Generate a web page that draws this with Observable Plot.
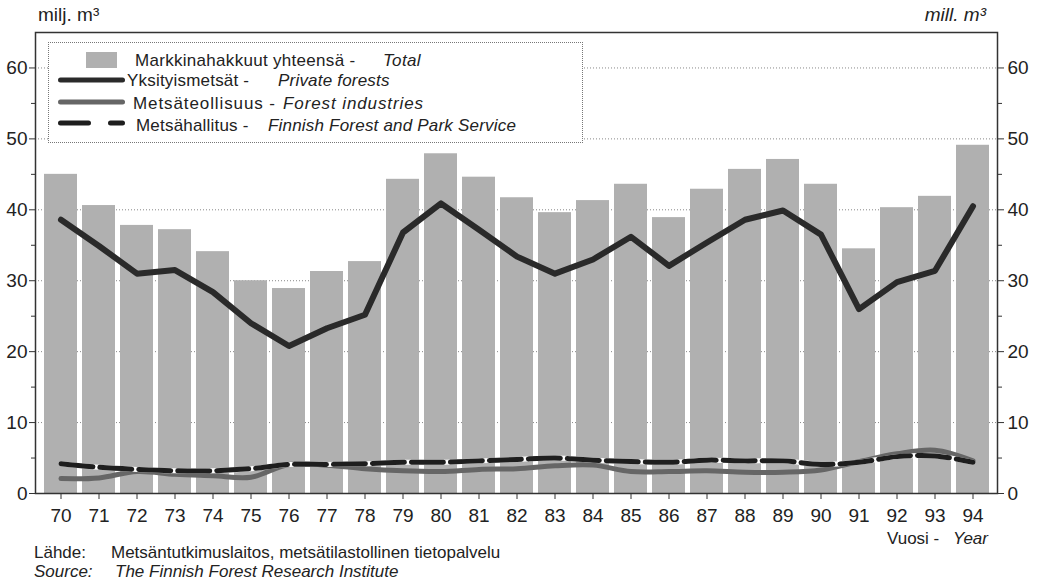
<!DOCTYPE html>
<html>
<head>
<meta charset="utf-8">
<script src="https://cdn.jsdelivr.net/npm/d3@7"></script>
<script src="https://cdn.jsdelivr.net/npm/@observablehq/plot@0.6"></script>
<style>
  html, body { margin: 0; padding: 0; background: #fff; }
  #wrap { position: relative; width: 1039px; height: 581px; font-family: "Liberation Sans", Arial, sans-serif; color: #222; }
  #wrap svg.plot { position: absolute; left: 0; top: 0; }
  .t { position: absolute; font-size: 17px; white-space: nowrap; line-height: 1; }
  .i { font-style: italic; }
  #legend { position: absolute; left: 48px; top: 42px; width: 535px; height: 101px; border: 1px dotted #777; background: #fff; box-sizing: border-box; }
</style>
</head>
<body>
<div id="wrap"></div>
<script>
const years = ["70","71","72","73","74","75","76","77","78","79","80","81","82","83","84","85","86","87","88","89","90","91","92","93","94"];
const total = [45.0,40.6,37.8,37.2,34.1,30.0,28.9,31.3,32.7,44.3,47.9,44.6,41.7,39.6,41.3,43.6,38.9,42.9,45.7,47.1,43.6,34.5,40.3,41.9,49.1];
const privateForests = [38.6,34.9,31.0,31.5,28.4,24.0,20.8,23.3,25.2,36.8,40.9,37.2,33.4,31.0,33.0,36.2,32.1,35.4,38.6,39.9,36.5,26.0,29.8,31.4,40.5];
const forestIndustries = [2.1,2.2,3.1,2.7,2.5,2.3,4.1,4.0,3.5,3.2,3.1,3.4,3.5,3.9,4.0,3.1,3.1,3.2,3.0,3.0,3.3,4.5,5.6,6.1,4.6];
const parkService = [4.2,3.7,3.4,3.2,3.2,3.5,4.1,4.1,4.2,4.4,4.4,4.6,4.8,5.0,4.7,4.5,4.4,4.7,4.6,4.6,4.1,4.4,5.2,5.3,4.4];
const yMajor = [0,10,20,30,40,50,60];
const yMinor = [5,15,25,35,45,55];

const rows = years.map((y, i) => ({year: y, total: total[i], priv: privateForests[i], ind: forestIndustries[i], park: parkService[i]}));

const ink = "#222";
const plot = Plot.plot({
  width: 1039,
  height: 530,
  marginTop: 32,
  marginBottom: 37,
  marginLeft: 35,
  marginRight: 42,
  style: {fontFamily: "Liberation Sans, Arial, sans-serif", color: ink, background: "transparent"},
  x: {type: "band", domain: years, paddingInner: 0.14, paddingOuter: 0.104},
  y: {domain: [0, 65]},
  marks: [
    Plot.ruleY(yMajor.filter(d => d > 0), {stroke: "#888", strokeDasharray: "1,2", strokeWidth: 1}),
    Plot.barY(rows, {x: "year", y: "total", fill: "#b0b0b0"}),
    Plot.lineY(rows, {x: "year", y: "ind", stroke: "#666", strokeWidth: 5, curve: "catmull-rom"}),
    Plot.lineY(rows, {x: "year", y: "park", stroke: "#fff", strokeWidth: 5, curve: "catmull-rom"}),
    Plot.lineY(rows, {x: "year", y: "park", stroke: "#1e1e1e", strokeWidth: 5, strokeDasharray: "32,7", curve: "catmull-rom"}),
    Plot.lineY(rows, {x: "year", y: "priv", stroke: "#2a2a2a", strokeWidth: 6, strokeLinejoin: "round", curve: "linear"}),
    Plot.frame({stroke: "#333", strokeWidth: 1.5}),
    Plot.axisY({anchor: "left", ticks: yMajor, tickSize: 6, tickPadding: 2, fontSize: 19, label: null, stroke: "#333"}),
    Plot.axisY({anchor: "left", ticks: yMinor, tickSize: 4, tickFormat: () => "", label: null, stroke: "#333"}),
    Plot.axisY({anchor: "right", ticks: yMajor, tickSize: 6, tickPadding: 4, fontSize: 19, label: null, stroke: "#333"}),
    Plot.axisY({anchor: "right", ticks: yMinor, tickSize: 4, tickFormat: () => "", label: null, stroke: "#333"}),
    Plot.axisX({anchor: "bottom", tickSize: 6, tickPadding: 9, fontSize: 19, label: null, stroke: "#333"})
  ]
});
plot.classList.add("plot");
const wrap = document.getElementById("wrap");
wrap.appendChild(plot);

function addText(txt, left, top, cls, right, size) {
  const d = document.createElement("div");
  d.className = "t" + (cls ? " " + cls : "");
  d.textContent = txt;
  if (right !== undefined && right !== null) { d.style.right = right + "px"; } else { d.style.left = left + "px"; }
  d.style.top = top + "px";
  if (size) d.style.fontSize = size + "px";
  wrap.appendChild(d);
  return d;
}
addText("milj. m³", 38, 5, "", null, 19);
addText("mill. m³", 0, 5, "i", 1039 - 986, 19);
addText("Vuosi -", 887, 530);
addText("Year", 953, 530, "i");
addText("Lähde:", 34, 544);
addText("Metsäntutkimuslaitos, metsätilastollinen tietopalvelu", 111, 544);
addText("Source:", 34, 563, "i");
addText("The Finnish Forest Research Institute", 115, 563, "i");

// legend
const legendItems = [
  {kind: "bar", a: "Markkinahakkuut yhteensä -", ax: 86, b: "Total", bx: 334, ty: 9, ls: 0.3},
  {kind: "solid", color: "#2a2a2a", a: "Yksityismetsät -", ax: 78, b: "Private forests", bx: 229, ty: 29, ly: 37, ls: 0.2},
  {kind: "solid", color: "#666", a: "Metsäteollisuus -", ax: 84, b: "Forest industries", bx: 234, ty: 52, ly: 59, ls: 0.9},
  {kind: "dash", color: "#1e1e1e", a: "Metsähallitus -", ax: 87, b: "Finnish Forest and Park Service", bx: 219, ty: 74, ly: 80, ls: 0.2}
];
const leg = document.createElement("div");
leg.id = "legend";
wrap.appendChild(leg);
const sw = document.createElementNS("http://www.w3.org/2000/svg", "svg");
sw.setAttribute("width", 90); sw.setAttribute("height", 99);
sw.style.position = "absolute"; sw.style.left = "0px"; sw.style.top = "0px";
let inner = "";
for (const it of legendItems) {
  if (it.kind === "bar") {
    inner += `<rect x="37" y="9" width="31" height="16" fill="#b0b0b0"/>`;
  } else if (it.kind === "solid") {
    inner += `<line x1="11.5" x2="73.5" y1="${it.ly}" y2="${it.ly}" stroke="${it.color}" stroke-width="5" stroke-linecap="round"/>`;
  } else {
    inner += `<line x1="11.5" x2="73.5" y1="${it.ly}" y2="${it.ly}" stroke="${it.color}" stroke-width="5" stroke-linecap="round" stroke-dasharray="28,22"/>`;
  }
}
sw.innerHTML = inner;
leg.appendChild(sw);
for (const it of legendItems) {
  const a = document.createElement("div");
  a.className = "t"; a.textContent = it.a; a.style.left = it.ax + "px"; a.style.top = it.ty + "px";
  a.style.letterSpacing = it.ls + "px";
  leg.appendChild(a);
  const b = document.createElement("div");
  b.className = "t i"; b.textContent = it.b; b.style.left = it.bx + "px"; b.style.top = it.ty + "px";
  b.style.letterSpacing = it.ls + "px";
  leg.appendChild(b);
}
</script>
</body>
</html>
